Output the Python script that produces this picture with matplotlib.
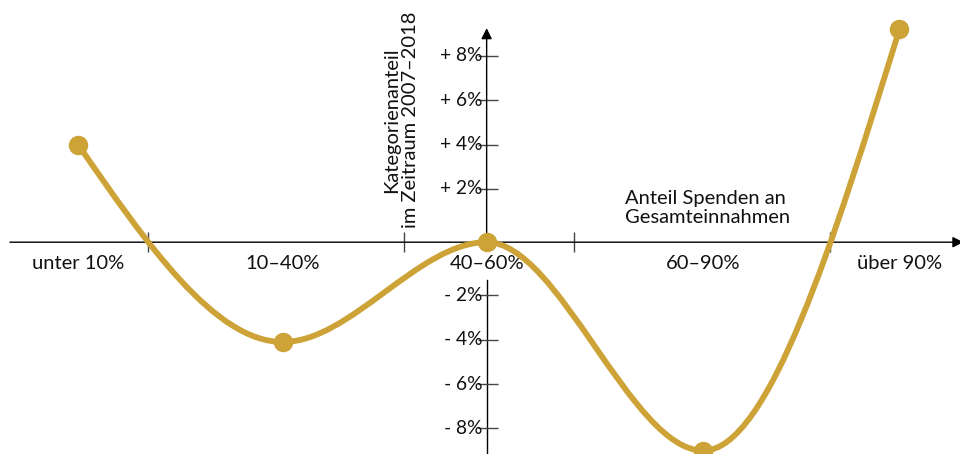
import numpy as np
import matplotlib
matplotlib.use("Agg")
import matplotlib.pyplot as plt
from matplotlib.path import Path
from matplotlib.patches import PathPatch

plt.rcParams['font.family'] = ['Lato', 'DejaVu Sans']

# data
categories = ["unter 10%", "10–40%", "40–60%", "60–90%", "über 90%"]
x_pos = [1.8, 25.8, 49.7, 75.1, 98.1]      # Anteil Spenden (%), position on x axis
values = [4.0, -4.1, 0.0, -9.0, 9.2]       # Kategorienanteil change (%)
bounds = [10, 40, 60, 90]                  # category boundaries
y_ticks = [8, 6, 4, 2, -2, -4, -6, -8]
y_tick_labels = ["+ 8%", "+ 6%", "+ 4%", "+ 2%", "- 2%", "- 4%", "- 6%", "- 8%"]

gold = '#cda237'
fs = 14.5
fs_tick = 13.8
gap = 0.4  # axis break around zero


def fwd(v):
    v = np.asarray(v, dtype=float)
    return v + gap * np.sign(v)


def inv(u):
    u = np.asarray(u, dtype=float)
    return np.where(np.abs(u) < gap, 0.0, u - gap * np.sign(u))


def monotone_path(xs, ys):
    # monotone-x cubic curve (same as d3.curveMonotoneX) as bezier path
    xs = np.asarray(xs, float)
    ys = np.asarray(ys, float)
    n = len(xs)
    s = np.diff(ys) / np.diff(xs)
    t = np.zeros(n)
    for i in range(1, n - 1):
        h0 = xs[i] - xs[i - 1]
        h1 = xs[i + 1] - xs[i]
        p = (s[i - 1] * h1 + s[i] * h0) / (h0 + h1)
        t[i] = (np.sign(s[i - 1]) + np.sign(s[i])) * min(abs(s[i - 1]), abs(s[i]), 0.5 * abs(p))
    t[0] = (3 * s[0] - t[1]) / 2
    t[-1] = (3 * s[-1] - t[-2]) / 2
    verts = [(xs[0], ys[0])]
    codes = [Path.MOVETO]
    for i in range(n - 1):
        dx = (xs[i + 1] - xs[i]) / 3
        verts += [(xs[i] + dx, ys[i] + dx * t[i]),
                  (xs[i + 1] - dx, ys[i + 1] - dx * t[i + 1]),
                  (xs[i + 1], ys[i + 1])]
        codes += [Path.CURVE4] * 3
    return Path(verts, codes)


fig = plt.figure(figsize=(9.6, 4.54), dpi=100)
ax = fig.add_axes([0, 0, 1, 1])
ax.set_yscale('function', functions=(fwd, inv))
ax.set_xlim(-7.36, 105.2)
ax.set_ylim(-9.15, 10.52)
ax.axis('off')

y_axis_x = x_pos[2]

# x axis with arrow
ax.annotate('', xy=(105.6, 0), xytext=(-6.2, 0),
            arrowprops=dict(arrowstyle='-|>', color='black', lw=1.0,
                            mutation_scale=16, shrinkA=0, shrinkB=0),
            annotation_clip=False)
ax.plot(bounds, [0] * len(bounds), ls='none', marker='|', ms=14, mew=1.0, color='#444444')

# y axis (upper part with arrow, lower part below the label)
ax.annotate('', xy=(y_axis_x, 9.25), xytext=(y_axis_x, 0),
            arrowprops=dict(arrowstyle='-|>', color='black', lw=1.0,
                            mutation_scale=16, shrinkA=0, shrinkB=0))
ax.plot([y_axis_x, y_axis_x], [-1.3, -9.3], color='black', lw=1.0)
ax.plot([y_axis_x + 0.2] * len(y_ticks), y_ticks, ls='none', marker='_', ms=14, mew=1.0,
        color='#444444')
for v, lab in zip(y_ticks, y_tick_labels):
    ax.text(y_axis_x - 0.5, v, lab, ha='right', va='center', fontsize=fs_tick, color='#111111')

# curve drawn in scaled space so the break does not bend it
pts = ax.transScale.transform(np.column_stack([x_pos, values]))
curve = monotone_path(pts[:, 0], pts[:, 1])
ax.add_patch(PathPatch(curve, facecolor='none', edgecolor=gold, lw=4.2,
                       transform=ax.transLimits + ax.transAxes, zorder=3))
ax.plot(x_pos, values, ls='none', marker='o', ms=13, color=gold, zorder=4)

# category labels under the x axis
for x, lab in zip(x_pos, categories):
    ax.annotate(lab, xy=(x, 0), xytext=(0, -21), textcoords='offset pixels',
                ha='center', va='center', fontsize=fs, color='#111111', zorder=2)

ax.text(39.68, 5.1, "Kategorienanteil\nim Zeitraum 2007–2018", rotation=90,
        ha='center', va='center', multialignment='center', fontsize=fs,
        linespacing=1.15, color='#111111')
ax.text(65.97, 1.14, "Anteil Spenden an\nGesamteinnahmen", ha='left', va='center',
        fontsize=fs, linespacing=1.15, color='#111111')

fig.savefig("out.png", dpi=100)
